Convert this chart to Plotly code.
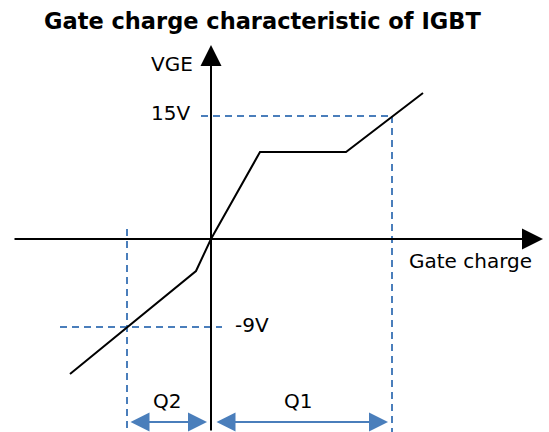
import plotly.graph_objects as go

# Schematic data (arbitrary units, origin at the axes crossing)
charge = [-141, -15, 0, 49, 135, 212]
vge = [-135, -32, 0, 87, 87, 146]

v_on = 123      # 15V level
v_off = -88     # -9V level
q1_end = 181    # charge at 15V
q2_end = -84    # charge at -9V

labels = {"vge": "VGE", "von": "15V", "voff": "-9V", "q": "Gate charge",
          "q1": "Q1", "q2": "Q2"}
title = "Gate charge characteristic of IGBT"

BLUE = "#4a7ebb"
FONT = "DejaVu Sans"

fig = go.Figure()
fig.add_trace(go.Scatter(x=charge, y=vge, mode="lines",
                         line=dict(color="black", width=2), hoverinfo="skip"))

dash = "7px,5px"
shapes = [
    dict(type="line", x0=-10, x1=q1_end, y0=v_on, y1=v_on),
    dict(type="line", x0=q1_end, x1=q1_end, y0=v_on, y1=-193),
    dict(type="line", x0=-151, x1=11, y0=v_off, y1=v_off),
    dict(type="line", x0=q2_end, x1=q2_end, y0=10, y1=-193),
]
for s in shapes:
    s.update(xref="x", yref="y", line=dict(color=BLUE, width=2, dash=dash), layer="below")
fig.update_layout(shapes=shapes)

ann = []
# axes with arrows
ann.append(dict(x=332, y=0, ax=-198, ay=0, axref="x", ayref="y", xref="x", yref="y",
                text="", showarrow=True, arrowhead=2, arrowwidth=2, arrowsize=2.1,
                arrowcolor="black", standoff=0))
ann.append(dict(x=0, y=194, ax=0, ay=-193, axref="x", ayref="y", xref="x", yref="y",
                text="", showarrow=True, arrowhead=2, arrowwidth=2, arrowsize=2.1,
                arrowcolor="black", standoff=0))
# Q arrows
ann.append(dict(x=-4, y=-183, ax=-82, ay=-183, axref="x", ayref="y", xref="x", yref="y",
                text="", showarrow=True, arrowhead=2, startarrowhead=2, arrowside="end+start",
                arrowwidth=2, arrowsize=1.9, startarrowsize=1.9, arrowcolor=BLUE,
                standoff=0, startstandoff=0))
ann.append(dict(x=177, y=-183, ax=4, ay=-183, axref="x", ayref="y", xref="x", yref="y",
                text="", showarrow=True, arrowhead=2, startarrowhead=2, arrowside="end+start",
                arrowwidth=2, arrowsize=1.9, startarrowsize=1.9, arrowcolor=BLUE,
                standoff=0, startstandoff=0))

def txt(x, y, t, xanchor="center", size=20, bold=False):
    return dict(x=x, y=y, xref="x", yref="y", text=t, showarrow=False,
                xanchor=xanchor, yanchor="middle",
                font=dict(family=FONT, size=size, color="black",
                          weight="bold" if bold else "normal"))

ann.append(txt(-16, 175, labels["vge"], xanchor="right"))
ann.append(txt(-19, 126, labels["von"], xanchor="right"))
ann.append(txt(22, -86, labels["voff"], xanchor="left"))
ann.append(txt(196, -22, labels["q"], xanchor="left"))
ann.append(txt(-44, -162, labels["q2"]))
ann.append(txt(87, -162, labels["q1"]))
ann.append(txt(51, 218, title, size=22.5, bold=True))
fig.update_layout(annotations=ann)

fig.update_layout(
    width=549, height=432, margin=dict(l=0, r=0, t=0, b=0),
    paper_bgcolor="white", plot_bgcolor="white", showlegend=False,
    xaxis=dict(range=[-211, 338], visible=False, fixedrange=True),
    yaxis=dict(range=[-193, 239], visible=False, fixedrange=True),
)
fig.write_html("out.html", config={"displayModeBar": False},
               post_script="document.body.style.margin='0';document.body.style.overflow='hidden';")
